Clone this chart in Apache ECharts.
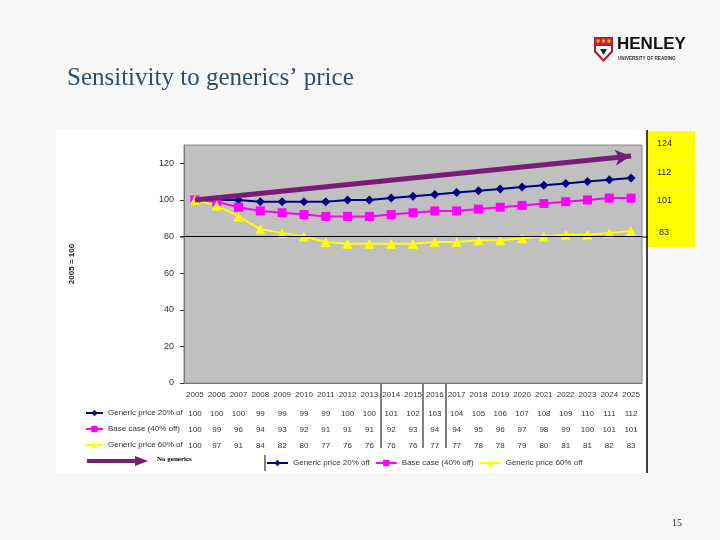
<!DOCTYPE html>
<html><head><meta charset="utf-8">
<script src="https://cdn.jsdelivr.net/npm/echarts@6/dist/echarts.min.js"></script>
<style>html,body{margin:0;padding:0;background:#f7f7f7;}#c{width:720px;height:540px;}</style>
</head><body><div id="c"></div>
<script>
const years = ['2005','2006','2007','2008','2009','2010','2011','2012','2013','2014','2015','2016','2017','2018','2019','2020','2021','2022','2023','2024','2025'];
const generic20 = [100,100,100,99,99,99,99,100,100,101,102,103,104,105,106,107,108,109,110,111,112];
const baseCase = [100,99,96,94,93,92,91,91,91,92,93,94,94,95,96,97,98,99,100,101,101];
const generic60 = [100,97,91,84,82,80,77,76,76,76,76,77,77,78,78,79,80,81,81,82,83];
const noGenYears = ['2005','2025'];
const noGenerics = [100,124];
const yTicks = [0,20,40,60,80,100,120];
const names = ['Generic price 20% off','Base case (40% off)','Generic price 60% off'];

const chart = echarts.init(document.getElementById('c'));
const F = 'Liberation Sans, Arial, sans-serif';
const txt = {fontFamily:F, fontSize:8, color:'#333'};
function rowAxis(arr, margin){
  return {type:'category', data:years, position:'bottom', gridIndex:0,
    axisLine:{show:false}, axisTick:{show:false}, splitLine:{show:false},
    axisLabel:Object.assign({margin:margin, interval:0, formatter:(v,i)=>String(arr[i])}, txt)};
}
const option = {
  animation:false,
  backgroundColor:'#f7f7f7',
  grid:{left:184, right:78, top:145, bottom:157, show:true, backgroundColor:'#c0c0c0', borderColor:'#8a8a8a', borderWidth:1},
  xAxis:[
    {type:'category', data:years, boundaryGap:true,
     axisLine:{lineStyle:{color:'#777'}}, axisTick:{show:false},
     axisLabel:Object.assign({margin:8, interval:0}, txt)},
    rowAxis(generic20, 27), rowAxis(baseCase, 43), rowAxis(generic60, 59)
  ],
  yAxis:{type:'value', min:0, max:130, interval:20,
    name:'2005 = 100', nameLocation:'middle', nameGap:108, nameRotate:90,
    nameTextStyle:{fontFamily:F, fontSize:8, color:'#222', fontWeight:'bold'},
    axisLine:{show:true, lineStyle:{color:'#777'}},
    axisTick:{show:true, inside:false, length:4, lineStyle:{color:'#333'}},
    splitLine:{show:false},
    axisLabel:{fontFamily:F, fontSize:9, color:'#333', margin:10, showMaxLabel:false,
      formatter:v=>yTicks.indexOf(v)>=0?String(v):''}},
  legend:[
    {data:names, orient:'vertical', left:80, top:404, itemWidth:17, itemHeight:8, itemGap:8,
     textStyle:{fontFamily:F, fontSize:8, color:'#333', width:77, overflow:'truncate', ellipsis:''}},
    {data:names, orient:'horizontal', left:261, top:454, itemWidth:21, itemHeight:8, itemGap:5,
     textStyle:{fontFamily:F, fontSize:8, color:'#333'}}
  ],
  series:[
    {name:names[0], type:'line', data:generic20, symbol:'diamond', symbolSize:9,
     itemStyle:{color:'#000080'}, lineStyle:{color:'#000080', width:2}, z:3},
    {name:names[1], type:'line', data:baseCase, symbol:'rect', symbolSize:9,
     itemStyle:{color:'#ff00ff'}, lineStyle:{color:'#ff00ff', width:2}, z:3},
    {name:names[2], type:'line', data:generic60, symbol:'triangle', symbolSize:10,
     itemStyle:{color:'#ffff00'}, lineStyle:{color:'#ffff00', width:2}, z:3,
     markLine:{silent:true, symbol:'none', label:{show:false},
       lineStyle:{color:'#000', width:1, type:'solid'}, data:[{yAxis:80}]}},
    {name:'No generics', type:'line', data:[], z:5,
     markLine:{silent:true, symbol:['none','arrow'], symbolSize:[12,16], label:{show:false},
       lineStyle:{color:'#771d77', width:5, type:'solid'},
       data:[[{coord:[noGenYears[0], noGenerics[0]]},{coord:[noGenYears[1], noGenerics[1]]}]]}}
  ],
  graphic:[
    {type:'rect', z:-10, shape:{x:56,y:130,width:591,height:343}, style:{fill:'#ffffff'}},
    {type:'line', shape:{x1:647,y1:130,x2:647,y2:473}, style:{stroke:'#000', lineWidth:1.5}},
    {type:'line', shape:{x1:180,y1:237,x2:184,y2:237}, style:{stroke:'#000', lineWidth:1}},
    {type:'line', shape:{x1:642,y1:237,x2:652,y2:237}, style:{stroke:'#000', lineWidth:1}},
    {type:'rect', shape:{x:648,y:131,width:47,height:116}, style:{fill:'#ffff00'}},
    {type:'line', shape:{x1:648,y1:162,x2:695,y2:162}, style:{stroke:'#f4f47a', lineWidth:1}},
    {type:'line', shape:{x1:648,y1:190,x2:695,y2:190}, style:{stroke:'#f4f47a', lineWidth:1}},
    {type:'text', x:657, y:139, style:{text:String(noGenerics[1]), fontFamily:F, fontSize:9, fill:'#222'}},
    {type:'text', x:657, y:168, style:{text:String(generic20[20]), fontFamily:F, fontSize:9, fill:'#222'}},
    {type:'text', x:657, y:196, style:{text:String(baseCase[20]), fontFamily:F, fontSize:9, fill:'#222'}},
    {type:'text', x:659, y:228, style:{text:String(generic60[20]), fontFamily:F, fontSize:9, fill:'#222'}},
    {type:'line', shape:{x1:381,y1:384,x2:381,y2:448}, style:{stroke:'#000', lineWidth:1}},
    {type:'line', shape:{x1:423,y1:384,x2:423,y2:448}, style:{stroke:'#000', lineWidth:1}},
    {type:'line', shape:{x1:446,y1:384,x2:446,y2:448}, style:{stroke:'#000', lineWidth:1}},
    {type:'line', shape:{x1:265,y1:455,x2:265,y2:471}, style:{stroke:'#000', lineWidth:1}},
    {type:'line', shape:{x1:87,y1:461,x2:136,y2:461}, style:{stroke:'#771d77', lineWidth:4}},
    {type:'polygon', shape:{points:[[135,456],[148,461],[135,466]]}, style:{fill:'#771d77'}},
    {type:'text', x:157, y:456, style:{text:'No generics', fontFamily:'Liberation Serif, serif', fontSize:7, fontWeight:'bold', fill:'#000'}},
    {type:'text', x:67, y:66, style:{text:'Sensitivity to generics\u2019 price', fontFamily:'Liberation Serif, DejaVu Serif, serif', fontSize:25, fill:'#2b4f6f'}},
    {type:'text', x:672, y:518, style:{text:'15', fontFamily:'Liberation Serif, serif', fontSize:10, fill:'#222'}},
    {type:'polygon', shape:{points:[[594,37],[613,37],[613,52],[603.5,62],[594,52]]}, style:{fill:'#b5162b'}},
    {type:'rect', shape:{x:595,y:38,width:17,height:7}, style:{fill:'#c9202f'}},
    {type:'circle', shape:{cx:598,cy:41,r:1.7}, style:{fill:'#e8b923'}},
    {type:'circle', shape:{cx:603.5,cy:41,r:1.7}, style:{fill:'#e8b923'}},
    {type:'circle', shape:{cx:609,cy:41,r:1.7}, style:{fill:'#e8b923'}},
    {type:'polygon', shape:{points:[[596,46],[611,46],[611,51],[603.5,59],[596,51]]}, style:{fill:'#ffffff'}},
    {type:'polygon', shape:{points:[[600,49],[607,49],[603.5,55]]}, style:{fill:'#222'}},
    {type:'text', x:617, y:36, style:{text:'HENLEY', fontFamily:F, fontSize:17, fontWeight:'bold', fill:'#111'}},
    {type:'text', x:618, y:56, style:{text:'UNIVERSITY OF READING', fontFamily:F, fontSize:4.6, fontWeight:'bold', fill:'#333'}}
  ]
};
chart.setOption(option);
</script></body></html>
